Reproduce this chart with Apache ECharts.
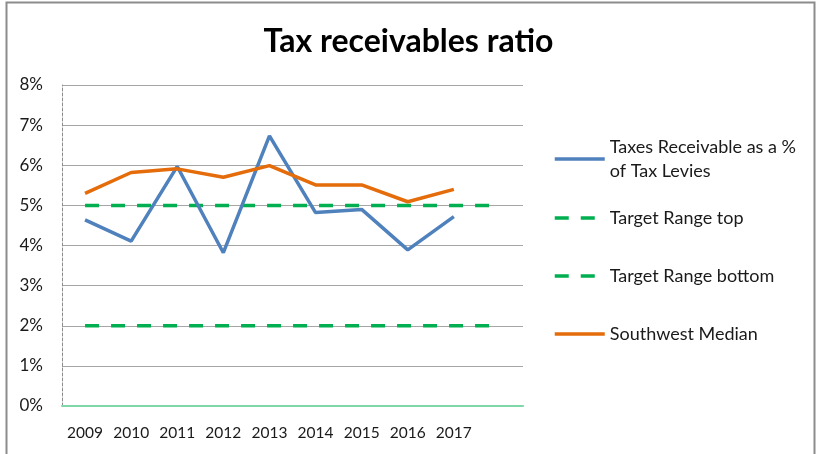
<!DOCTYPE html>
<html>
<head>
<meta charset="utf-8">
<script src="https://cdn.jsdelivr.net/npm/echarts@6/dist/echarts.min.js"></script>
<style>
html,body{margin:0;padding:0;background:#fff;}
#chart{width:817px;height:454px;}
</style>
</head>
<body>
<div id="chart"></div>
<script>
var categories = ['2009','2010','2011','2012','2013','2014','2015','2016','2017',''];
var taxesReceivable = [4.64, 4.11, 5.97, 3.82, 6.73, 4.82, 4.90, 3.89, 4.72];
var targetTop = [5, 5, 5, 5, 5, 5, 5, 5, 5, 5];
var targetBottom = [2, 2, 2, 2, 2, 2, 2, 2, 2, 2];
var southwestMedian = [5.30, 5.82, 5.91, 5.70, 5.99, 5.51, 5.51, 5.09, 5.40];
var yTicks = [0, 1, 2, 3, 4, 5, 6, 7, 8];

var FONT = 'Lato';
var chart = echarts.init(document.getElementById('chart'), null, {renderer: 'canvas'});

function legendCfg(name, top, extra) {
  var ts = {fontFamily: FONT, fontSize: 18, color: '#1a1a1a', lineHeight: 24};
  if (extra) ts.padding = [24, 0, 0, 0];
  return {
    data: [name], left: 553, top: top, itemWidth: 50, itemHeight: 14,
    textStyle: ts, selectedMode: false, padding: 0,
    itemStyle: {opacity: 0},
    lineStyle: {width: 3.5}
  };
}

var option = {
  animation: false,
  backgroundColor: '#fff',
  title: {
    text: 'Tax receivables ratio', left: 'center', top: 21,
    textStyle: {fontFamily: FONT, fontWeight: 'bold', fontSize: 32, color: '#000'}
  },
  graphic: [{
    type: 'rect', shape: {x: 6.5, y: 2.5, width: 808, height: 470},
    style: {fill: null, stroke: '#8c8c8c', lineWidth: 2}, silent: true
  }],
  legend: [
    legendCfg('Taxes Receivable as a %\nof Tax Levies', 123, true),
    legendCfg('Target Range top', 206),
    legendCfg('Target Range bottom', 264),
    legendCfg('Southwest Median', 322)
  ],
  grid: {left: 62, right: 294, top: 85, bottom: 48, containLabel: false},
  xAxis: {
    type: 'category', data: categories, boundaryGap: true,
    axisLine: {show: true, lineStyle: {color: '#7fd6a6', width: 2}},
    axisTick: {show: false},
    axisLabel: {fontFamily: FONT, fontSize: 15.5, color: '#1a1a1a', margin: 19, interval: 0},
    splitLine: {show: false}
  },
  yAxis: {
    type: 'value', min: 0, max: 8, interval: 1,
    axisLine: {show: true, lineStyle: {color: '#8c8c8c', width: 1, type: [3, 2]}},
    axisTick: {show: false},
    axisLabel: {fontFamily: FONT, fontSize: 17, color: '#1a1a1a', margin: 19,
      formatter: function (v) { return yTicks.indexOf(v) >= 0 ? v + '%' : ''; }},
    splitLine: {show: true, lineStyle: {color: '#a6a6a6', width: 1}}
  },
  series: [
    {name: 'Taxes Receivable as a %\nof Tax Levies', type: 'line', data: taxesReceivable,
      symbol: 'none', lineStyle: {color: '#4f81bd', width: 3.5}, itemStyle: {color: '#4f81bd'}, z: 4},
    {name: 'Target Range top', type: 'line', data: targetTop,
      symbol: 'none', lineStyle: {color: '#00b050', width: 3.5, type: [14, 12]}, itemStyle: {color: '#00b050'}, z: 3},
    {name: 'Target Range bottom', type: 'line', data: targetBottom,
      symbol: 'none', lineStyle: {color: '#00b050', width: 3.5, type: [14, 12]}, itemStyle: {color: '#00b050'}, z: 3},
    {name: 'Southwest Median', type: 'line', data: southwestMedian,
      symbol: 'none', lineStyle: {color: '#e46c0a', width: 3.5}, itemStyle: {color: '#e46c0a'}, z: 4}
  ]
};
chart.setOption(option);
</script>
</body>
</html>
